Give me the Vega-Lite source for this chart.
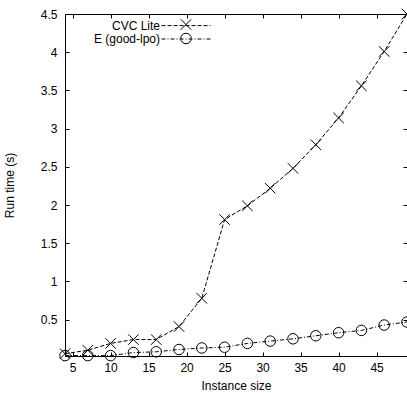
{
  "$schema": "https://vega.github.io/schema/vega-lite/v6.json",
  "width": 342,
  "height": 342,
  "autosize": {"type": "none"},
  "padding": {"left": 65, "top": 14, "right": 0, "bottom": 37},
  "background": "white",
  "config": {
    "font": "Liberation Sans",
    "view": {"stroke": "black", "strokeWidth": 1},
    "axis": {
      "domain": false,
      "grid": false,
      "tickColor": "black",
      "tickSize": -4,
      "tickWidth": 1,
      "labelColor": "black",
      "labelFontSize": 12,
      "labelFont": "Liberation Sans",
      "titleFontSize": 12,
      "titleFont": "Liberation Sans",
      "titleFontWeight": "normal",
      "titleColor": "black",
      "labelFlush": false,
      "labelOverlap": false
    }
  },
  "data": {
    "values": [
      {"solver": "CVC Lite", "size": 4, "time": 0.055},
      {"solver": "CVC Lite", "size": 7, "time": 0.10},
      {"solver": "CVC Lite", "size": 10, "time": 0.19},
      {"solver": "CVC Lite", "size": 13, "time": 0.24},
      {"solver": "CVC Lite", "size": 16, "time": 0.24},
      {"solver": "CVC Lite", "size": 19, "time": 0.41},
      {"solver": "CVC Lite", "size": 22, "time": 0.78},
      {"solver": "CVC Lite", "size": 25, "time": 1.81},
      {"solver": "CVC Lite", "size": 28, "time": 1.99},
      {"solver": "CVC Lite", "size": 31, "time": 2.22},
      {"solver": "CVC Lite", "size": 34, "time": 2.48},
      {"solver": "CVC Lite", "size": 37, "time": 2.79},
      {"solver": "CVC Lite", "size": 40, "time": 3.14},
      {"solver": "CVC Lite", "size": 43, "time": 3.56},
      {"solver": "CVC Lite", "size": 46, "time": 4.01},
      {"solver": "CVC Lite", "size": 49, "time": 4.50},
      {"solver": "E (good-lpo)", "size": 4, "time": 0.03},
      {"solver": "E (good-lpo)", "size": 7, "time": 0.03},
      {"solver": "E (good-lpo)", "size": 10, "time": 0.03},
      {"solver": "E (good-lpo)", "size": 13, "time": 0.07},
      {"solver": "E (good-lpo)", "size": 16, "time": 0.08},
      {"solver": "E (good-lpo)", "size": 19, "time": 0.11},
      {"solver": "E (good-lpo)", "size": 22, "time": 0.13},
      {"solver": "E (good-lpo)", "size": 25, "time": 0.14},
      {"solver": "E (good-lpo)", "size": 28, "time": 0.19},
      {"solver": "E (good-lpo)", "size": 31, "time": 0.22},
      {"solver": "E (good-lpo)", "size": 34, "time": 0.25},
      {"solver": "E (good-lpo)", "size": 37, "time": 0.29},
      {"solver": "E (good-lpo)", "size": 40, "time": 0.33},
      {"solver": "E (good-lpo)", "size": 43, "time": 0.36},
      {"solver": "E (good-lpo)", "size": 46, "time": 0.43},
      {"solver": "E (good-lpo)", "size": 49, "time": 0.47}
    ]
  },
  "layer": [
    {
      "mark": {"type": "line", "strokeWidth": 1, "clip": false},
      "encoding": {
        "x": {
          "field": "size", "type": "quantitative",
          "scale": {"domain": [4, 49], "nice": false, "zero": false},
          "axis": {"orient": "bottom", "title": "Instance size", "values": [5, 10, 15, 20, 25, 30, 35, 40, 45], "labelPadding": 10, "titlePadding": 7}
        },
        "y": {
          "field": "time", "type": "quantitative",
          "scale": {"domain": [0.025, 4.5], "nice": false, "zero": false},
          "axis": {"orient": "left", "title": "Run time (s)", "format": "~g", "values": [0.5, 1, 1.5, 2, 2.5, 3, 3.5, 4, 4.5], "labelPadding": 12, "titlePadding": 24}
        },
        "strokeDash": {
          "field": "solver", "type": "nominal",
          "scale": {"range": [[4, 2], [4, 2, 1, 2]]},
          "legend": {
            "orient": "none", "legendX": 96, "legendY": -13.4, "title": null, "values": ["CVC Lite"],
            "symbolType": "stroke", "symbolSize": 2401, "symbolStrokeColor": "black", "symbolStrokeWidth": 1,
            "labelAlign": "right", "labelOffset": -51, "labelFontSize": 12, "labelColor": "black",
            "rowPadding": 0, "padding": 0
          }
        },
        "color": {
          "field": "solver", "type": "nominal",
          "scale": {"domain": ["E (good-lpo)", "CVC Lite"], "range": ["black", "black"]},
          "legend": {
            "orient": "none", "legendX": 96, "legendY": 0, "title": null, "values": ["E (good-lpo)"],
            "symbolType": "stroke", "symbolSize": 2401, "symbolStrokeColor": "black", "symbolStrokeWidth": 1, "symbolDash": [4, 2, 1, 2],
            "labelAlign": "right", "labelOffset": -51, "labelFontSize": 12, "labelColor": "black",
            "rowPadding": 0, "padding": 0
          }
        }
      }
    },
    {
      "mark": {"type": "point", "filled": false, "color": "black", "size": 110, "strokeWidth": 1, "opacity": 1, "clip": false},
      "encoding": {
        "x": {
          "field": "size", "type": "quantitative",
          "axis": {"orient": "top", "title": null, "labels": false, "values": [5, 10, 15, 20, 25, 30, 35, 40, 45]}
        },
        "y": {
          "field": "time", "type": "quantitative",
          "axis": {"orient": "right", "title": null, "labels": false, "values": [0.5, 1, 1.5, 2, 2.5, 3, 3.5, 4, 4.5]}
        },
        "shape": {
          "field": "solver", "type": "nominal",
          "scale": {"domain": ["CVC Lite", "E (good-lpo)"], "range": ["M-1,-1L1,1M-1,1L1,-1", "circle"]},
          "legend": {
            "orient": "none", "legendX": 115, "legendY": 3.8, "title": null,
            "symbolSize": 110, "symbolStrokeColor": "black", "symbolFillColor": "transparent", "symbolStrokeWidth": 1,
            "labelOpacity": 0, "labelFontSize": 6, "clipHeight": 13.4, "rowPadding": 0, "padding": 0
          }
        }
      }
    }
  ],
  "resolve": {"axis": {"x": "independent", "y": "independent"}}
}
